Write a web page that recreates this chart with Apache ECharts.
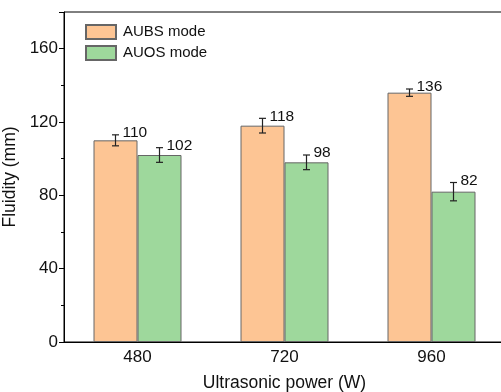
<!DOCTYPE html>
<html>
<head>
<meta charset="utf-8">
<script src="https://cdn.jsdelivr.net/npm/echarts@6/dist/echarts.min.js"></script>
<style>
  html, body { margin: 0; padding: 0; background: #fff; }
  #chart { width: 501px; height: 392px; }
</style>
</head>
<body>
<div id="chart"></div>
<script>
const categories = ['480', '720', '960'];
const aubsValues = [110, 118, 136];
const auosValues = [102, 98, 82];
const aubsErrors = [3, 4, 2];
const auosErrors = [4, 4, 5];
const yTicks = [0, 40, 80, 120, 160];

const font = '"Liberation Sans", Arial, sans-serif';
const barW = 44;

// error bar + value label, drawn next to each bar
const errorSeries = (values, errors, shift) => ({
  type: 'custom',
  z: 10,
  silent: true,
  data: values.map((v, i) => [i, v, errors[i]]),
  renderItem: (params, api) => {
    const idx = api.value(0);
    const val = api.value(1);
    const err = api.value(2);
    const top = api.coord([idx, val + err]);
    const bot = api.coord([idx, val - err]);
    const x = top[0] + shift;
    const style = { stroke: '#222', lineWidth: 1.2 };
    return {
      type: 'group',
      children: [
        { type: 'line', shape: { x1: x, y1: top[1], x2: x, y2: bot[1] }, style },
        { type: 'line', shape: { x1: x - 3.5, y1: top[1], x2: x + 3.5, y2: top[1] }, style },
        { type: 'line', shape: { x1: x - 3.5, y1: bot[1], x2: x + 3.5, y2: bot[1] }, style },
        {
          type: 'text',
          style: {
            text: String(val),
            x: x + 7,
            y: top[1] - 2,
            verticalAlign: 'middle',
            align: 'left',
            font: '15.5px ' + font,
            fill: '#111'
          }
        }
      ]
    };
  }
});

const chart = echarts.init(document.getElementById('chart'));

chart.setOption({
  animation: false,
  grid: {
    left: 64,
    top: 12,
    width: 441,
    height: 330,
    outerBoundsMode: 'none',
    containLabel: false,
    show: true,
    borderColor: '#000',
    borderWidth: 1
  },
  legend: {
    orient: 'vertical',
    left: 85,
    top: 24,
    padding: 0,
    itemWidth: 30,
    itemHeight: 14,
    itemGap: 5,
    icon: 'rect',
    textStyle: { fontFamily: font, fontSize: 15, color: '#111', padding: [0, 0, 0, 2] },
    data: ['AUBS mode', 'AUOS mode']
  },
  xAxis: {
    type: 'category',
    data: categories,
    name: 'Ultrasonic power (W)',
    nameLocation: 'middle',
    nameGap: 32,
    nameTextStyle: { fontFamily: font, fontSize: 17.5, color: '#111' },
    axisLine: { lineStyle: { color: '#000', width: 1 } },
    axisTick: { show: false },
    axisLabel: { fontFamily: font, fontSize: 17, color: '#111', margin: 7 }
  },
  yAxis: {
    type: 'value',
    min: yTicks[0],
    max: 180,
    interval: 40,
    name: 'Fluidity (mm)',
    nameLocation: 'middle',
    nameGap: 37,
    nameTextStyle: { fontFamily: font, fontSize: 17.5, color: '#111' },
    axisLine: { show: true, lineStyle: { color: '#000', width: 1 } },
    axisTick: { show: true, inside: false, length: 5, lineStyle: { color: '#000' } },
    minorTick: { show: true, splitNumber: 2, length: 3, lineStyle: { color: '#000' } },
    splitLine: { show: false },
    axisLabel: {
      fontFamily: font,
      fontSize: 17,
      color: '#111',
      margin: 6,
      formatter: (v) => (yTicks.includes(v) ? String(v) : '')
    }
  },
  series: [
    {
      name: 'AUBS mode',
      type: 'bar',
      data: aubsValues,
      barWidth: barW,
      barGap: '0%',
      itemStyle: { color: '#FDC594', borderColor: '#666', borderWidth: 1 }
    },
    {
      name: 'AUOS mode',
      type: 'bar',
      data: auosValues,
      barWidth: barW,
      barGap: '0%',
      itemStyle: { color: '#9ED89C', borderColor: '#666', borderWidth: 1 }
    },
    errorSeries(aubsValues, aubsErrors, -barW / 2),
    errorSeries(auosValues, auosErrors, barW / 2)
  ]
});
</script>
</body>
</html>
